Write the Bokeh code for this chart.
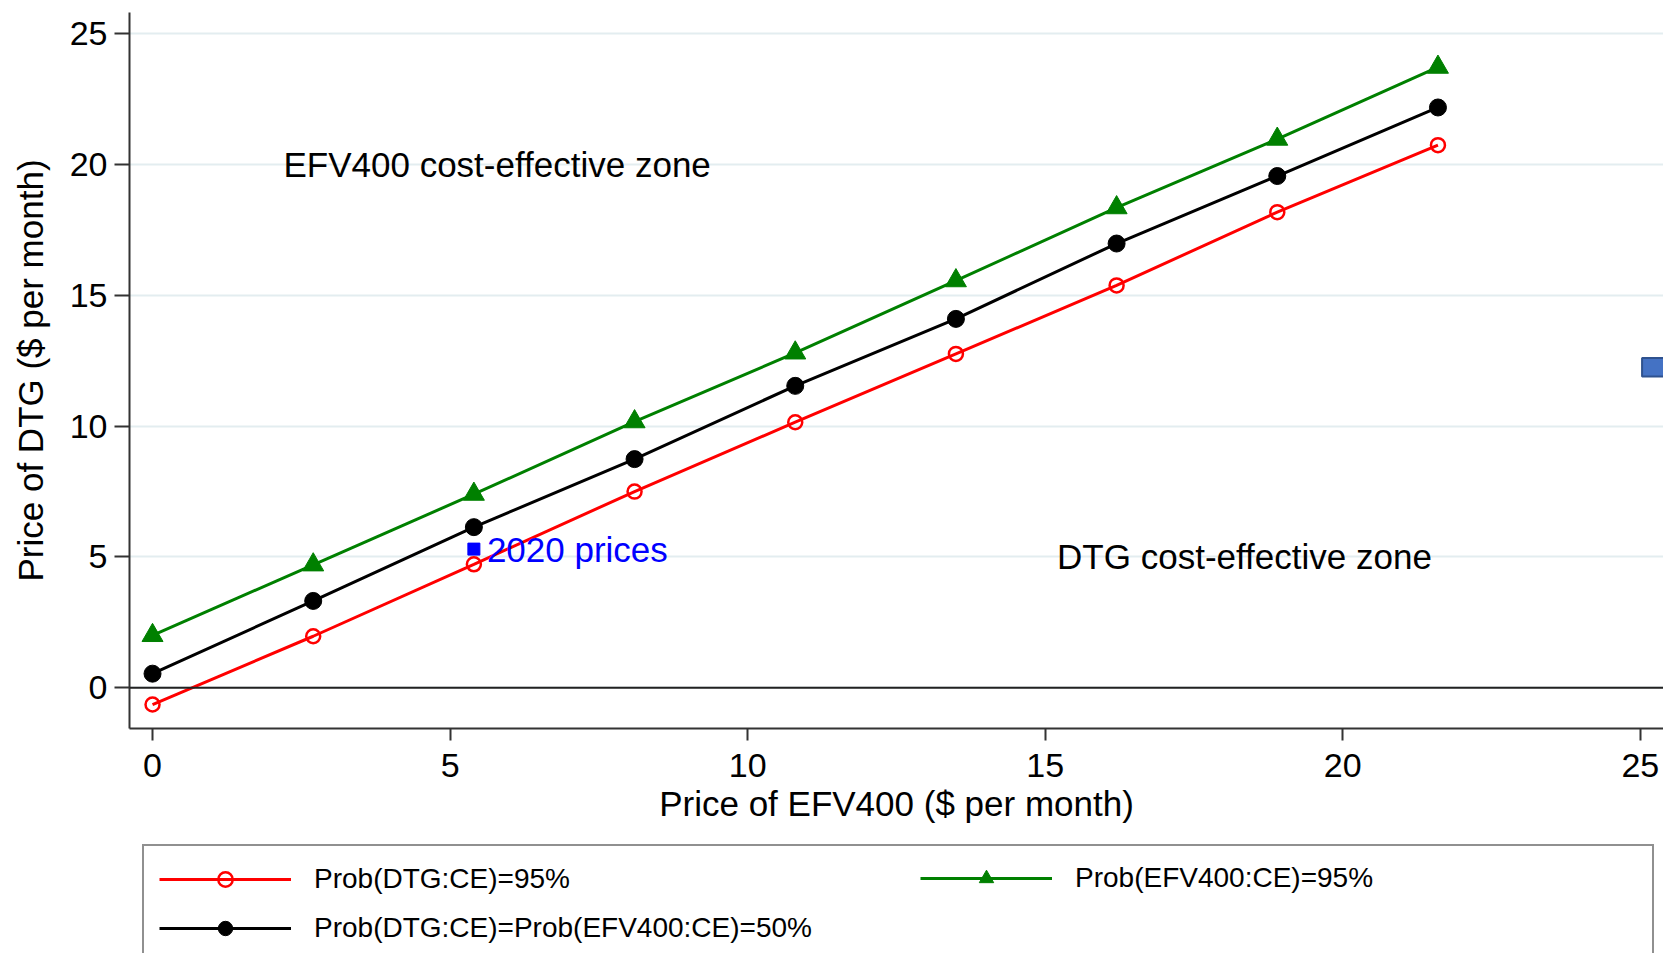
from bokeh.plotting import figure
from bokeh.layouts import column
from bokeh.models import (Range1d, Legend, LegendItem, Label, Span, FixedTicker,
                          ColumnDataSource, BoxAnnotation)
from bokeh.embed import file_html
from bokeh.resources import INLINE

# ---------------- data ----------------
price_efv400 = [0, 2.7, 5.4, 8.1, 10.8, 13.5, 16.2, 18.9, 21.6]
dtg_ce_95 = [-0.64, 1.97, 4.72, 7.50, 10.15, 12.76, 15.38, 18.18, 20.74]
equal_ce_50 = [0.54, 3.32, 6.14, 8.74, 11.54, 14.10, 16.98, 19.56, 22.18]
efv_ce_95 = [2.00, 4.70, 7.40, 10.17, 12.80, 15.56, 18.35, 20.97, 23.72]

prices_2020_x = [5.4]
prices_2020_y = [5.3]

x_ticks = [0, 5, 10, 15, 20, 25]
y_ticks = [0, 5, 10, 15, 20, 25]

series_labels = ["Prob(DTG:CE)=95%",
                 "Prob(DTG:CE)=Prob(EFV400:CE)=50%",
                 "Prob(EFV400:CE)=95%"]
zone_labels = ["EFV400 cost-effective zone", "DTG cost-effective zone"]
zone_x = [2.2, 15.2]
zone_y = [20.0, 5.03]
point_label = "2020 prices"

FONT = "Liberation Sans"
RED = "#ff0000"
GREEN = "#008000"
BLACK = "#000000"
BLUE = "#0000ff"

W = 1663
p = figure(width=W, height=843, output_backend="svg", toolbar_location=None,
           x_range=Range1d(-0.387, 25.39), y_range=Range1d(-1.556, 25.81),
           min_border_left=129, min_border_right=0, min_border_top=12,
           min_border_bottom=115)
p.outline_line_color = None
p.background_fill_color = "white"
p.border_fill_color = "white"

# grid
p.xgrid.visible = False
p.ygrid.ticker = FixedTicker(ticks=y_ticks)
p.ygrid.grid_line_color = "#e3edf0"
p.ygrid.grid_line_width = 2

# axes
p.xaxis.ticker = FixedTicker(ticks=x_ticks)
p.yaxis.ticker = FixedTicker(ticks=y_ticks)
for ax in (p.xaxis, p.yaxis):
    ax.axis_line_color = "#333333"
    ax.axis_line_width = 2
    ax.major_tick_line_color = "#333333"
    ax.major_tick_line_width = 2
    ax.major_tick_in = 0
    ax.minor_tick_line_color = None
    ax.major_label_text_font = FONT
    ax.major_label_text_font_size = "34px"
    ax.major_label_text_color = "black"
    ax.axis_label_text_font = FONT
    ax.axis_label_text_font_size = "35px"
    ax.axis_label_text_font_style = "normal"
    ax.axis_label_text_color = "black"
p.xaxis.major_tick_out = 12
p.yaxis.major_tick_out = 15
p.xaxis.major_label_standoff = 13
p.yaxis.major_label_standoff = 7
p.xaxis.axis_label = "Price of EFV400 ($ per month)"
p.yaxis.axis_label = "Price of DTG ($ per month)"
p.xaxis.axis_label_standoff = 4
p.yaxis.axis_label_standoff = 17

# zero line
p.add_layout(Span(location=0, dimension="width", line_color="#222222", line_width=2))

src = ColumnDataSource(dict(x=price_efv400, red=dtg_ce_95, black=equal_ce_50, green=efv_ce_95))

red_line = dict(line_color=RED, line_width=3)
red_mark = dict(marker="circle", size=14, line_color=RED, line_width=2.5, fill_color=None)
grn_line = dict(line_color=GREEN, line_width=3)
grn_mark = dict(marker="triangle", size=21, line_color=GREEN, fill_color=GREEN)
blk_line = dict(line_color=BLACK, line_width=3)
blk_mark = dict(marker="circle", size=17, line_color=BLACK, fill_color=BLACK)

p.line("x", "red", source=src, **red_line)
p.scatter("x", "red", source=src, **red_mark)
p.line("x", "green", source=src, **grn_line)
p.scatter("x", "green", source=src, **grn_mark)
p.line("x", "black", source=src, **blk_line)
p.scatter("x", "black", source=src, **blk_mark)

# 2020 prices
p.scatter(prices_2020_x, prices_2020_y, marker="square", size=12,
          line_color=BLUE, fill_color=BLUE)
p.add_layout(Label(x=prices_2020_x[0], y=prices_2020_y[0], text=point_label,
                   x_offset=13, text_baseline="middle", text_align="left",
                   text_font=FONT, text_font_size="35px", text_color=BLUE))

# zone labels
for t, zx, zy in zip(zone_labels, zone_x, zone_y):
    p.add_layout(Label(x=zx, y=zy, text=t, text_baseline="middle", text_align="left",
                       text_font=FONT, text_font_size="35px", text_color="black"))

# stray blue box at right edge (as in reference)
p.add_layout(BoxAnnotation(left=25.03, right=25.6, bottom=11.9, top=12.6,
                           fill_color="#4472c4", fill_alpha=1,
                           line_color="#2f528f", line_width=2, line_alpha=1))

# ---------------- legend strip ----------------
# same series, but the ranges keep the marks themselves out of view:
# only the legend glyphs show in this strip
q = figure(width=W, height=110, output_backend="svg", toolbar_location=None,
           x_range=Range1d(100, 101), y_range=Range1d(100, 101),
           x_axis_location=None, y_axis_location=None,
           min_border=0, min_border_left=0, min_border_right=0,
           min_border_top=0, min_border_bottom=0)
q.grid.visible = False
q.outline_line_color = None
q.background_fill_color = "white"
q.border_fill_color = "white"

lr1 = q.line("x", "red", source=src, **red_line)
mr1 = q.scatter("x", "red", source=src, **red_mark)
lr2 = q.line("x", "black", source=src, **blk_line)
mr2 = q.scatter("x", "black", source=src, **blk_mark)
lr3 = q.line("x", "green", source=src, **grn_line)
mr3 = q.scatter("x", "green", source=src, **grn_mark)

common = dict(label_text_font=FONT, label_text_font_size="28px",
              label_text_color="black", glyph_width=132, glyph_height=36,
              label_height=36, label_standoff=23, padding=15, spacing=13, margin=0)
leg_a = Legend(items=[LegendItem(label=series_labels[0], renderers=[lr1, mr1]),
                      LegendItem(label=series_labels[1], renderers=[lr2, mr2])],
               location=(13, -10), label_width=1323,
               border_line_color="#222222", border_line_width=2,
               background_fill_color="white", background_fill_alpha=1, **common)
leg_b = Legend(items=[LegendItem(label=series_labels[2], renderers=[lr3, mr3])],
               location=(791, 57), label_width=300,
               border_line_color=None, background_fill_alpha=0, **common)
q.add_layout(leg_a)
q.add_layout(leg_b)

layout = column(p, q, spacing=0)
open("out.html", "w").write(file_html(layout, INLINE))
